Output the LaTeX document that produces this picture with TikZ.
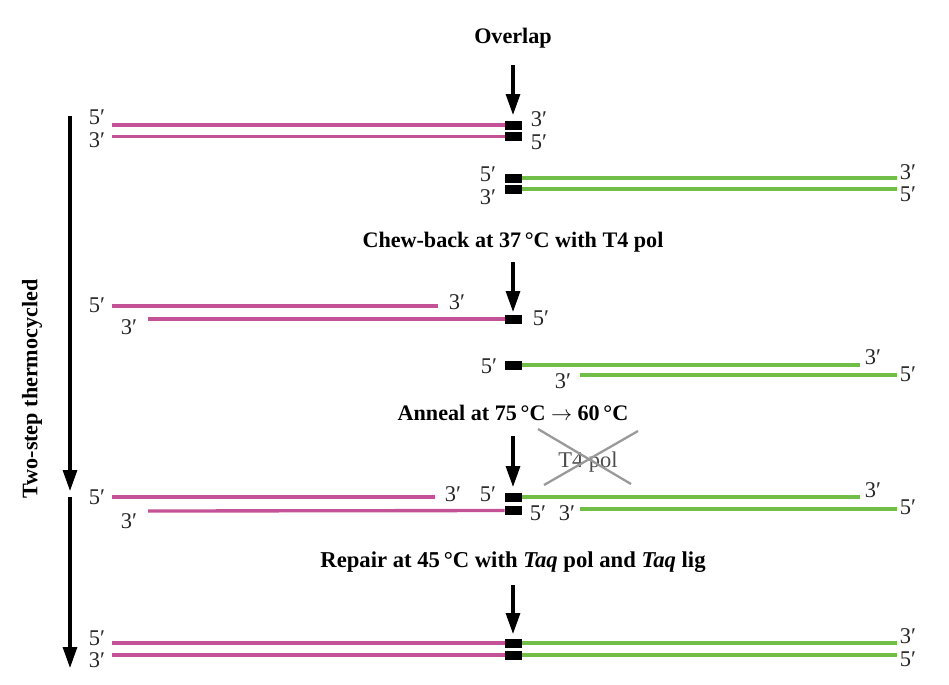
\documentclass[tikz,border=0pt]{standalone}
\usepackage{fontspec}
\setmainfont{Liberation Serif}
\usetikzlibrary{arrows.meta}
\definecolor{pinkstr}{RGB}{196,82,150}
\definecolor{greenstr}{RGB}{112,190,72}
\begin{document}
\begin{tikzpicture}[x=0.02cm,y=-0.02cm,
  pk/.style={draw=pinkstr,line width=1.9pt},
  gr/.style={draw=greenstr,line width=1.9pt},
  blk/.style={fill=black,draw=none,minimum width=0.34cm,minimum height=0.18cm,inner sep=0pt,rectangle},
  lab/.style={font=\fontsize{12.8}{13}\selectfont,text=black!85,inner sep=0pt},
  head/.style={font=\bfseries\fontsize{12.6}{14}\selectfont,inner sep=0pt},
  bigarrow/.style={draw=black,line width=1.8pt,-{Triangle[length=0.42cm,width=0.28cm]}},
]
\useasboundingbox (0,0) rectangle (949,684);

% ---------------- Overlap ----------------
\node[head] (t1) at (513,38) {Overlap};
\coordinate (a1s) at (513,65); \coordinate (a1e) at (513,115);
\draw[bigarrow] (a1s) -- (a1e);

% row 1
\node[blk] (b1a) at (513.5,125) {};
\node[blk] (b1b) at (513.5,136.5) {};
\coordinate (p1a) at (112,125); \coordinate (p1b) at (112,136.5);
\draw[pk] (p1a) -- (b1a.west);
\draw[pk] (p1b) -- (b1b.west);
\node[lab] at (97,117) {5′};
\node[lab] at (97,140) {3′};
\node[lab] at (539,119) {3′};
\node[lab] at (539,142) {5′};

% row 2
\node[blk] (b2a) at (513.5,178) {};
\node[blk] (b2b) at (513.5,189) {};
\coordinate (g2a) at (897,178); \coordinate (g2b) at (897,189);
\draw[gr] (b2a.east) -- (g2a);
\draw[gr] (b2b.east) -- (g2b);
\node[lab] at (488,174) {5′};
\node[lab] at (488,197) {3′};
\node[lab] at (908,172) {3′};
\node[lab] at (908,194) {5′};

% ---------------- Chew-back ----------------
\node[head] (t2) at (513,242) {Chew-back at 37\,°C with T4 pol};
\coordinate (a2s) at (513,262); \coordinate (a2e) at (513,312);
\draw[bigarrow] (a2s) -- (a2e);

% row 3
\node[blk] (b3) at (513.5,319) {};
\coordinate (p3a) at (112,306); \coordinate (p3ae) at (438,306);
\coordinate (p3b) at (148,319);
\draw[pk] (p3a) -- (p3ae);
\draw[pk] (p3b) -- (b3.west);
\node[lab] at (97,305) {5′};
\node[lab] at (457,302) {3′};
\node[lab] at (129,327) {3′};
\node[lab] at (541,318) {5′};

% row 4
\node[blk] (b4) at (513.5,365) {};
\coordinate (g4ae) at (860,365);
\coordinate (g4b) at (580,375); \coordinate (g4be) at (897,375);
\draw[gr] (b4.east) -- (g4ae);
\draw[gr] (g4b) -- (g4be);
\node[lab] at (489,366) {5′};
\node[lab] at (873,357) {3′};
\node[lab] at (563,381) {3′};
\node[lab] at (908,374) {5′};

% ---------------- Anneal ----------------
\node[head] (t3) at (513,413) {Anneal at 75\,°C $\rightarrow$ 60\,°C};
\coordinate (a3s) at (513,436); \coordinate (a3e) at (513,487);
\draw[bigarrow] (a3s) -- (a3e);
\node[font=\fontsize{12.8}{13}\selectfont,text=black!70,inner sep=0pt] (t4) at (588,462) {T4 pol};
\coordinate (x1a) at (538,429); \coordinate (x1b) at (631,484);
\coordinate (x2a) at (638,431); \coordinate (x2b) at (544,485);
\draw[black!40,line width=1.3pt] (x1a) -- (x1b);
\draw[black!40,line width=1.3pt] (x2a) -- (x2b);

% row 5
\node[blk] (b5a) at (513.5,497) {};
\node[blk] (b5b) at (513.5,510.5) {};
\coordinate (p5a) at (112,497); \coordinate (p5ae) at (435,497);
\coordinate (p5b) at (148,511);
\coordinate (g5ae) at (860,497);
\coordinate (g5b) at (580,509); \coordinate (g5be) at (897,509);
\draw[pk] (p5a) -- (p5ae);
\draw[pk] (p5b) -- (b5b.west);
\draw[gr] (b5a.east) -- (g5ae);
\draw[gr] (g5b) -- (g5be);
\node[lab] at (97,497) {5′};
\node[lab] at (129,521) {3′};
\node[lab] at (453,494) {3′};
\node[lab] at (488,494) {5′};
\node[lab] at (538,513) {5′};
\node[lab] at (567,513) {3′};
\node[lab] at (873,490) {3′};
\node[lab] at (908,507) {5′};

% ---------------- Repair ----------------
\node[head,font=\bfseries\fontsize{12.9}{14}\selectfont] (t5) at (513,562) {Repair at 45\,°C with \textit{Taq} pol and \textit{Taq} lig};
\coordinate (a4s) at (513,585); \coordinate (a4e) at (513,634);
\draw[bigarrow] (a4s) -- (a4e);

% row 6
\node[blk] (b6a) at (513.5,643) {};
\node[blk] (b6b) at (513.5,655) {};
\coordinate (p6a) at (112,643); \coordinate (p6b) at (112,655);
\coordinate (g6a) at (897,643); \coordinate (g6b) at (897,655);
\draw[pk] (p6a) -- (b6a.west);
\draw[pk] (p6b) -- (b6b.west);
\draw[gr] (b6a.east) -- (g6a);
\draw[gr] (b6b.east) -- (g6b);
\node[lab] at (97,638) {5′};
\node[lab] at (97,660) {3′};
\node[lab] at (908,636) {3′};
\node[lab] at (908,659) {5′};

% ---------------- left arrows ----------------
\coordinate (l1s) at (70,116); \coordinate (l1e) at (70,491);
\coordinate (l2s) at (70,497); \coordinate (l2e) at (70,668);
\draw[bigarrow] (l1s) -- (l1e);
\draw[bigarrow] (l2s) -- (l2e);
\node[head,rotate=90] (side) at (32,389) {Two-step thermocycled};
\end{tikzpicture}
\end{document}
